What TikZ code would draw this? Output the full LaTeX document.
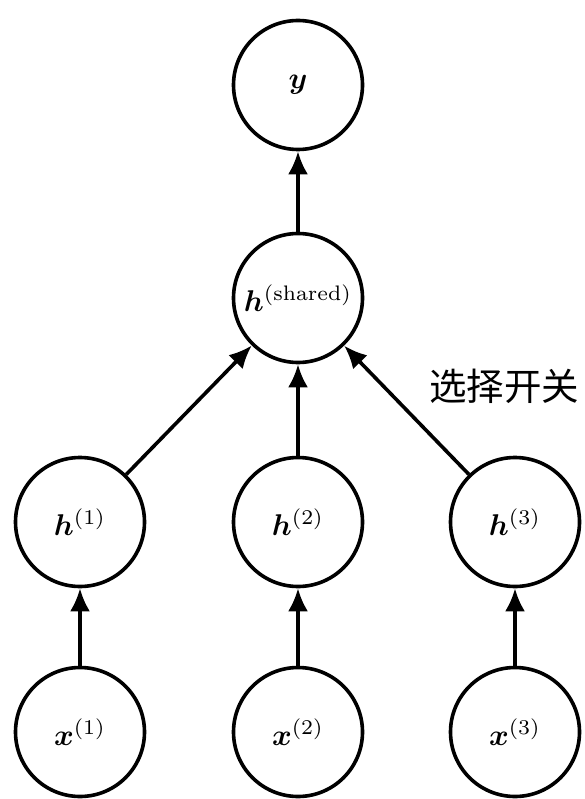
\documentclass[tikz,border=0pt]{standalone}
\usepackage{amsmath}
\usepackage{bm}
\usepackage{graphicx}
\usepackage{fontspec}
\newfontfamily\cjk{Noto Sans CJK SC}
\usetikzlibrary{arrows.meta}
\newcommand{\biglab}[1]{\scalebox{3.0}{$#1$}}
\begin{document}
\begin{tikzpicture}[x=1pt,y=-1pt,
  unit/.style={circle,draw,line width=3.6pt,minimum size=129pt,inner sep=0pt},
  conn/.style={line width=3.6pt,-{Latex[length=23pt,width=20pt]}}]
\useasboundingbox (0,0) rectangle (585,799);
\node[unit] (y)  at (298,85)  {\biglab{\bm{y}}};
\node[unit] (hs) at (298,298) {\biglab{\bm{h}^{(\mathrm{shared})}}};
\node[unit] (h1) at (80,522)  {\biglab{\bm{h}^{(1)}}};
\node[unit] (h2) at (298,522) {\biglab{\bm{h}^{(2)}}};
\node[unit] (h3) at (515,522) {\biglab{\bm{h}^{(3)}}};
\node[unit] (x1) at (80,732)  {\biglab{\bm{x}^{(1)}}};
\node[unit] (x2) at (298,732) {\biglab{\bm{x}^{(2)}}};
\node[unit] (x3) at (515,732) {\biglab{\bm{x}^{(3)}}};
\node[font=\cjk\fontsize{37.5}{40}\selectfont,inner sep=0pt] (lab) at (504,386) {选择开关};
\draw[conn] (hs) -- (y);
\draw[conn] (h1) -- (hs);
\draw[conn] (h2) -- (hs);
\draw[conn] (h3) -- (hs);
\draw[conn] (x1) -- (h1);
\draw[conn] (x2) -- (h2);
\draw[conn] (x3) -- (h3);
\end{tikzpicture}
\end{document}
